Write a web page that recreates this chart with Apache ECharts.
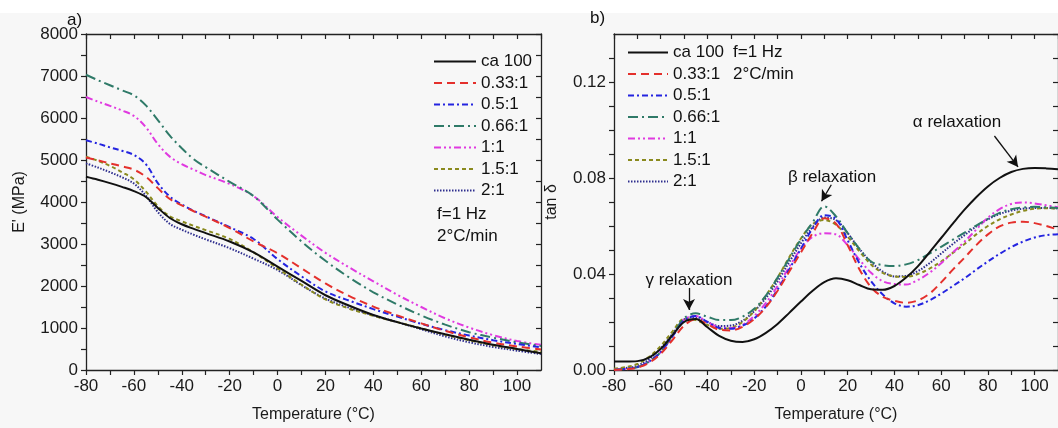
<!DOCTYPE html>
<html>
<head>
<meta charset="utf-8">
<script src="https://cdn.jsdelivr.net/npm/echarts@6/dist/echarts.min.js"></script>
<style>html,body{margin:0;padding:0;background:#fff}#c{width:1058px;height:428px}</style>
</head>
<body>
<div id="c"></div>
<script>
// ---------- DATA ----------
var seriesNames = ['ca 100', '0.33:1', '0.5:1', '0.66:1', '1:1', '1.5:1', '2:1'];

// Panel a) storage modulus E' (MPa)
var tempA = [-80,-75,-70,-65,-60,-55,-50,-45,-40,-35,-30,-20,-10,0,10,20,30,40,50,60,70,80,90,100,110];
var eCa100 = [4600,4530,4450,4360,4260,4120,3860,3620,3470,3360,3260,3060,2800,2460,2120,1780,1530,1310,1140,990,850,720,600,500,400];
var e033   = [5060,4990,4920,4850,4770,4600,4330,4070,3920,3780,3650,3380,3060,2780,2420,2060,1760,1510,1300,1110,930,780,650,560,490];
var e05    = [5470,5390,5300,5220,5120,4900,4450,4130,3940,3790,3660,3400,3120,2640,2230,1870,1650,1450,1270,1100,950,820,710,620,540];
var e066   = [7030,6900,6780,6660,6540,6300,5950,5580,5280,5020,4830,4480,4140,3580,3060,2600,2200,1850,1560,1300,1080,900,770,660,570];
var e1     = [6500,6390,6290,6180,6050,5780,5380,5080,4900,4770,4640,4430,4140,3640,3200,2790,2440,2110,1790,1500,1230,1010,830,690,600];
var e15    = [5080,4980,4860,4710,4540,4250,3900,3660,3540,3430,3330,3120,2800,2420,2030,1680,1460,1290,1140,990,840,710,590,500,430];
var e2     = [4920,4820,4710,4590,4440,4150,3760,3480,3340,3220,3110,2900,2650,2380,2020,1700,1480,1300,1140,970,800,660,550,460,380];

// Panel b) loss factor tan δ
var tempB = [-80,-75,-70,-65,-60,-55,-50,-45,-40,-35,-30,-25,-20,-15,-10,-5,0,5,10,15,20,25,30,35,40,45,50,55,60,65,70,75,80,85,90,95,100,105,110];
var tCa100 = [.0035,.0035,.0037,.0052,.0088,.0145,.0200,.0212,.0178,.0142,.0122,.0117,.0128,.0155,.0192,.0238,.0285,.0330,.0366,.0382,.0374,.0354,.0336,.0334,.0350,.0385,.0432,.0490,.0550,.0610,.0668,.0720,.0765,.0800,.0825,.0838,.0842,.0840,.0836];
var t033   = [.0000,.0003,.0010,.0030,.0068,.0125,.0185,.0212,.0190,.0168,.0165,.0180,.0212,.0262,.0330,.0410,.0490,.0570,.0632,.0610,.0520,.0420,.0345,.0305,.0288,.0280,.0290,.0318,.0365,.0418,.0468,.0520,.0565,.0598,.0614,.0618,.0612,.0600,.0585];
var t05    = [.0000,.0004,.0012,.0035,.0075,.0140,.0205,.0225,.0200,.0175,.0172,.0185,.0215,.0265,.0335,.0420,.0505,.0590,.0645,.0630,.0540,.0445,.0370,.0315,.0278,.0264,.0270,.0290,.0318,.0350,.0382,.0418,.0452,.0484,.0512,.0535,.0552,.0562,.0566];
var t066   = [.0000,.0005,.0012,.0035,.0075,.0145,.0215,.0236,.0222,.0208,.0208,.0222,.0255,.0310,.0385,.0465,.0545,.0615,.0682,.0640,.0570,.0505,.0452,.0437,.0433,.0440,.0458,.0485,.0513,.0543,.0572,.0602,.0630,.0655,.0670,.0677,.0680,.0678,.0675];
var t1     = [.0000,.0005,.0012,.0035,.0075,.0140,.0210,.0225,.0200,.0178,.0175,.0188,.0225,.0280,.0350,.0430,.0505,.0555,.0570,.0565,.0520,.0460,.0405,.0370,.0358,.0356,.0375,.0405,.0445,.0490,.0535,.0585,.0635,.0670,.0692,.0698,.0694,.0686,.0678];
var t15    = [.0005,.0012,.0025,.0055,.0100,.0160,.0212,.0208,.0188,.0172,.0175,.0200,.0245,.0310,.0385,.0470,.0548,.0608,.0625,.0605,.0555,.0495,.0440,.0405,.0390,.0388,.0400,.0422,.0452,.0488,.0525,.0565,.0600,.0628,.0648,.0663,.0672,.0674,.0672];
var t2     = [.0003,.0008,.0018,.0045,.0090,.0150,.0210,.0220,.0200,.0183,.0185,.0205,.0245,.0300,.0370,.0450,.0528,.0595,.0635,.0625,.0570,.0505,.0450,.0410,.0390,.0392,.0412,.0445,.0485,.0525,.0562,.0598,.0628,.0650,.0664,.0672,.0675,.0675,.0673];

// annotation arrows in panel b (data coordinates: [temperature, tan δ])
var arrowGamma = [[-47.9, 0.0342], [-47.9, 0.0250]];
var arrowBeta  = [[13.0, 0.0772], [8.8, 0.0703]];
var arrowAlpha = [[82.8, 0.0975], [92.9, 0.0846]];

// ---------- STYLE ----------
var FONT = "'Liberation Sans', Arial, sans-serif";
var styles = [
  {color:'#111111', type:'solid', width:2},
  {color:'#e4302c', type:[8,5], width:2},
  {color:'#2424e0', type:[6,3,2,3], width:2},
  {color:'#2f7a68', type:[10,4,2,4], width:2},
  {color:'#e03ae0', type:[7,3,2,3,2,3], width:2},
  {color:'#8a8a1e', type:[4,3], width:2},
  {color:'#2e2e8e', type:[1.5,1.5], width:2}
];

var chart = echarts.init(document.getElementById('c'), null, {renderer:'canvas'});

function pairs(xs, ys){ return xs.map(function(x,i){ return [x, ys[i]]; }); }

var dataA = [eCa100, e033, e05, e066, e1, e15, e2];
var dataB = [tCa100, t033, t05, t066, t1, t15, t2];

var series = [];
seriesNames.forEach(function(n, i){
  series.push({
    name:n, type:'line', xAxisIndex:0, yAxisIndex:0, smooth:0.35, symbol:'none',
    lineStyle:{color:styles[i].color, type:styles[i].type, width:styles[i].width},
    itemStyle:{color:styles[i].color},
    data: pairs(tempA, dataA[i]), z: 10 - i
  });
});
seriesNames.forEach(function(n, i){
  var s = {
    name:n, type:'line', xAxisIndex:2, yAxisIndex:2, smooth:0.35, symbol:'none',
    lineStyle:{color:styles[i].color, type:styles[i].type, width:styles[i].width},
    itemStyle:{color:styles[i].color},
    data: pairs(tempB, dataB[i]), z: 10 - i
  };
  if (i === 0) {
    s.markLine = {
      silent:true, symbol:['none','arrow'], symbolSize:[9,11],
      lineStyle:{color:'#111', type:'solid', width:1.3},
      label:{show:false},
      data:[arrowGamma, arrowBeta, arrowAlpha].map(function(a){
        return [{coord:a[0]}, {coord:a[1]}];
      })
    };
  }
  series.push(s);
});

var axisLine = {show:true, onZero:false, lineStyle:{color:'#222', width:1.3}};
var labelStyle = {color:'#1a1a1a', fontSize:17, fontFamily:FONT};
var nameStyle = {color:'#1a1a1a', fontSize:16, fontFamily:FONT};

function bottomX(grid){
  return {type:'value', gridIndex:grid, position:'bottom', min:-80, max:110, interval:10,
    axisLine:axisLine, splitLine:{show:false},
    axisTick:{show:true, inside:false, length:5, lineStyle:{color:'#222', width:1.2}},
    axisLabel:Object.assign({margin:8, showMaxLabel:false, formatter:function(v){ return (Math.round(v) % 20 === 0) ? String(v) : ''; }}, labelStyle),
    name:'Temperature (°C)', nameLocation:'middle', nameGap:37, nameTextStyle:nameStyle};
}
function topX(grid){
  return {type:'value', gridIndex:grid, position:'top', min:-80, max:110, interval:10,
    axisLine:axisLine, splitLine:{show:false}, axisLabel:{show:false},
    axisTick:{show:true, inside:true, length:5, lineStyle:{color:'#222', width:1.2}}};
}

var legendCommon = {data:seriesNames, orient:'vertical', padding:0, itemWidth:42, itemHeight:12, itemGap:4.5,
  selectedMode:false, itemStyle:{opacity:0},
  textStyle:{fontSize:17, fontFamily:FONT, color:'#111', lineHeight:17}};

var option = {
  backgroundColor:'#ffffff',
  animation:false,
  grid:[
    {left:86, top:34, width:455, height:338},
    {left:614, top:34, width:455, height:338}
  ],
  xAxis:[bottomX(0), topX(0), bottomX(1), topX(1)],
  yAxis:[
    {type:'value', gridIndex:0, position:'left', min:0, max:8000, interval:500,
      axisLine:axisLine, splitLine:{show:false},
      axisTick:{show:true, inside:false, length:5, lineStyle:{color:'#222', width:1.2}},
      axisLabel:Object.assign({margin:8, formatter:function(v){ return (v % 1000 === 0) ? String(v) : ''; }}, labelStyle),
      name:"E' (MPa)", nameLocation:'middle', nameGap:58, nameTextStyle:nameStyle},
    {type:'value', gridIndex:0, position:'right', min:0, max:8000, interval:500,
      axisLine:axisLine, splitLine:{show:false}, axisLabel:{show:false},
      axisTick:{show:true, inside:true, length:5, lineStyle:{color:'#222', width:1.2}}},
    {type:'value', gridIndex:1, position:'left', min:0, max:0.14, interval:0.01,
      axisLine:axisLine, splitLine:{show:false},
      axisTick:{show:true, inside:false, length:5, lineStyle:{color:'#222', width:1.2}},
      axisLabel:Object.assign({margin:8, showMaxLabel:false, formatter:function(v){ return (Math.round(v*100) % 4 === 0) ? v.toFixed(2) : ''; }}, labelStyle),
      name:'tan δ', nameLocation:'middle', nameGap:54, nameTextStyle:nameStyle},
    {type:'value', gridIndex:1, position:'right', min:0, max:0.14, interval:0.01,
      axisLine:axisLine, splitLine:{show:false}, axisLabel:{show:false},
      axisTick:{show:true, inside:true, length:5, lineStyle:{color:'#222', width:1.2}}}
  ],
  legend:[
    Object.assign({left:433, top:53}, legendCommon),
    Object.assign({left:627, top:44}, legendCommon, {itemWidth:40})
  ],
  graphic:[
    {type:'rect', left:0, top:13, z:-10, shape:{width:1058, height:415}, style:{fill:'#f7f7f7'}, silent:true},
    {type:'text', left:67, top:12, style:{text:'a)', fontSize:17, fontFamily:FONT, fill:'#111'}},
    {type:'text', left:590, top:10, style:{text:'b)', fontSize:17, fontFamily:FONT, fill:'#111'}},
    {type:'text', left:437, top:206, style:{text:'f=1 Hz', fontSize:17, fontFamily:FONT, fill:'#111'}},
    {type:'text', left:437, top:228, style:{text:'2°C/min', fontSize:17, fontFamily:FONT, fill:'#111'}},
    {type:'text', left:733, top:44, style:{text:'f=1 Hz', fontSize:17, fontFamily:FONT, fill:'#111'}},
    {type:'text', left:733, top:66, style:{text:'2°C/min', fontSize:17, fontFamily:FONT, fill:'#111'}},
    {type:'text', x:689, y:280, style:{text:'γ relaxation', fontSize:17, fontFamily:FONT, fill:'#111', align:'center', verticalAlign:'middle'}},
    {type:'text', x:832, y:177, style:{text:'β relaxation', fontSize:17, fontFamily:FONT, fill:'#111', align:'center', verticalAlign:'middle'}},
    {type:'text', x:957, y:122, style:{text:'α relaxation', fontSize:17, fontFamily:FONT, fill:'#111', align:'center', verticalAlign:'middle'}}
  ],
  series:series
};
chart.setOption(option);
</script>
</body>
</html>
